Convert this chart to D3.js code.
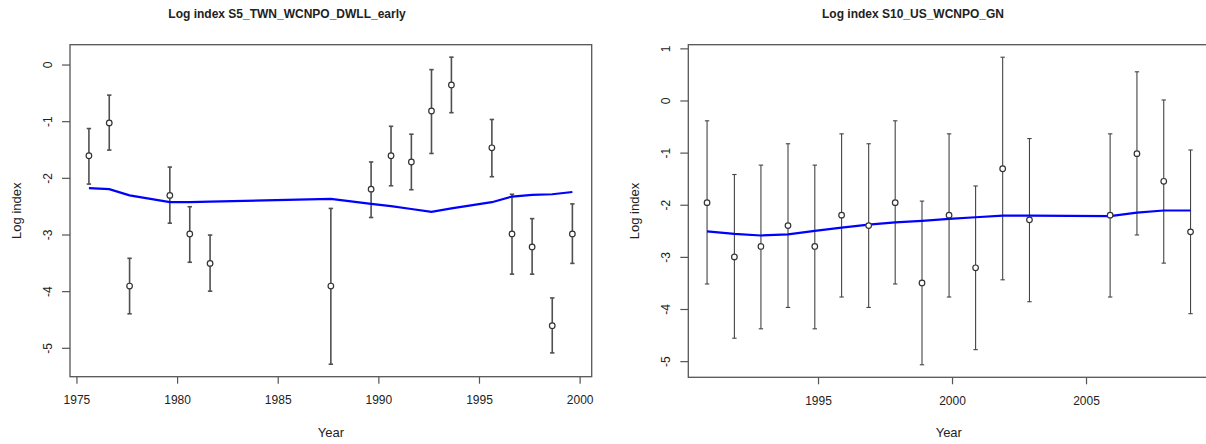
<!DOCTYPE html>
<html>
<head>
<meta charset="utf-8">
<script src="https://cdnjs.cloudflare.com/ajax/libs/d3/7.8.5/d3.min.js"></script>
<style>
  body { margin: 0; background: #fff; }
  text { font-family: "Liberation Sans", Arial, sans-serif; fill: #222; }
</style>
</head>
<body>
<div id="chart"></div>
<script>
// left panel data: S5_TWN_WCNPO_DWLL_early
var leftTitle = "Log index S5_TWN_WCNPO_DWLL_early"
var leftYears = [1975.62, 1976.63, 1977.64, 1979.64, 1980.63, 1981.64, 1987.64, 1989.64, 1990.63, 1991.64, 1992.64, 1993.63, 1995.64, 1996.64, 1997.64, 1998.64, 1999.64]
var leftObs = [-1.61, -1.03, -3.91, -2.31, -2.99, -3.51, -3.91, -2.20, -1.61, -1.72, -0.82, -0.36, -1.47, -2.99, -3.22, -4.61, -2.99]
var leftHi = [-1.13, -0.54, -3.42, -1.81, -2.51, -3.01, -2.54, -1.72, -1.09, -1.23, -0.09, 0.13, -0.97, -2.29, -2.72, -4.12, -2.46]
var leftLo = [-2.11, -1.51, -4.40, -2.80, -3.49, -4.00, -5.29, -2.70, -2.14, -2.21, -1.57, -0.85, -1.98, -3.70, -3.70, -5.09, -3.51]
var leftFit = [-2.18, -2.20, -2.31, -2.43, -2.43, -2.42, -2.37, -2.46, -2.50, -2.55, -2.60, -2.54, -2.43, -2.33, -2.30, -2.29, -2.25]
var leftXTicks = [1975, 1980, 1985, 1990, 1995, 2000]
var leftYTicks = [0, -1, -2, -3, -4, -5]

// right panel data: S10_US_WCNPO_GN
var rightTitle = "Log index S10_US_WCNPO_GN"
var rightYears = [1990.86, 1991.88, 1992.87, 1993.88, 1994.88, 1995.88, 1996.89, 1997.88, 1998.88, 1999.89, 2000.88, 2001.89, 2002.89, 2005.9, 2006.9, 2007.9, 2008.9]
var rightObs = [-1.96, -3.00, -2.80, -2.40, -2.80, -2.20, -2.40, -1.96, -3.50, -2.20, -3.21, -1.31, -2.29, -2.20, -1.02, -1.55, -2.52]
var rightHi = [-0.39, -1.42, -1.24, -0.83, -1.24, -0.64, -0.83, -0.39, -1.93, -0.64, -1.64, 0.83, -0.73, -0.64, 0.55, 0.01, -0.95]
var rightLo = [-3.52, -4.56, -4.38, -3.97, -4.38, -3.77, -3.97, -3.52, -5.07, -3.77, -4.78, -3.44, -3.86, -3.77, -2.58, -3.12, -4.09]
var rightFit = [-2.51, -2.56, -2.59, -2.57, -2.50, -2.44, -2.38, -2.34, -2.31, -2.27, -2.24, -2.21, -2.21, -2.22, -2.15, -2.11, -2.11]
var rightXTicks = [1995, 2000, 2005]
var rightYTicks = [1, 0, -1, -2, -3, -4, -5]

var svg = d3.select("#chart")
  .append("svg")
  .attr("width", 1206)
  .attr("height", 444)

// R prints a plain hyphen, not the unicode minus d3.format gives
function plain(d) { return String(d) }

function drawPanel(opt) {
  var g = svg.append("g")

  var x = d3.scaleLinear().domain(opt.xDomain).range([opt.left, opt.right])
  var y = d3.scaleLinear().domain(opt.yDomain).range([opt.bottom, opt.top])

  // title
  g.append("text")
    .attr("x", opt.titleX)
    .attr("y", 18)
    .attr("text-anchor", "middle")
    .style("font-size", "12px")
    .style("font-weight", "bold")
    .text(opt.title)

  // y axis, labels parallel to axis like R
  var yAxis = g.append("g")
    .attr("transform", "translate(" + opt.left + ",0)")
    .call(d3.axisLeft(y).tickValues(opt.yTicks).tickSize(8).tickSizeOuter(0).tickFormat(plain))
  yAxis.select(".domain").remove()
  yAxis.selectAll("line").attr("stroke", "#555").attr("stroke-width", 1.2)
  yAxis.selectAll("text")
    .attr("x", 0).attr("y", 0).attr("dy", null)
    .attr("text-anchor", "middle")
    .attr("transform", "translate(-18,0) rotate(-90)")
    .style("font-size", "12px")
    .style("fill", "#222")

  // x axis
  var xAxis = g.append("g")
    .attr("transform", "translate(0," + opt.bottom + ")")
    .call(d3.axisBottom(x).tickValues(opt.xTicks).tickSize(7).tickPadding(12).tickSizeOuter(0).tickFormat(plain))
  xAxis.select(".domain").remove()
  xAxis.selectAll("line").attr("stroke", "#555").attr("stroke-width", 1.2)
  xAxis.selectAll("text").style("font-size", "12px").style("fill", "#222")

  // box
  g.append("rect")
    .attr("x", opt.left)
    .attr("y", opt.top)
    .attr("width", opt.right - opt.left)
    .attr("height", opt.bottom - opt.top)
    .attr("fill", "none")
    .attr("stroke", "#555")
    .attr("stroke-width", 1.3)

  // axis titles
  g.append("text")
    .attr("x", (opt.left + opt.right) / 2)
    .attr("y", 437)
    .attr("text-anchor", "middle")
    .style("font-size", "13px")
    .text("Year")
  g.append("text")
    .attr("transform", "translate(" + opt.yLabelX + "," + ((opt.top + opt.bottom) / 2) + ") rotate(-90)")
    .attr("text-anchor", "middle")
    .style("font-size", "13px")
    .text("Log index")

  var pts = opt.years.map(function (d, i) {
    return { year: d, obs: opt.obs[i], hi: opt.hi[i], lo: opt.lo[i], fit: opt.fit[i] }
  })

  // error bars
  var bars = g.selectAll("bars").data(pts).enter().append("g")
    .attr("stroke", opt.barColor)
    .attr("stroke-width", opt.barWidth)
  bars.append("line")
    .attr("x1", function (d) { return x(d.year) })
    .attr("x2", function (d) { return x(d.year) })
    .attr("y1", function (d) { return y(d.hi) })
    .attr("y2", function (d) { return y(d.lo) })
  bars.append("line")
    .attr("x1", function (d) { return x(d.year) - 2.2 })
    .attr("x2", function (d) { return x(d.year) + 2.2 })
    .attr("y1", function (d) { return y(d.hi) })
    .attr("y2", function (d) { return y(d.hi) })
  bars.append("line")
    .attr("x1", function (d) { return x(d.year) - 2.2 })
    .attr("x2", function (d) { return x(d.year) + 2.2 })
    .attr("y1", function (d) { return y(d.lo) })
    .attr("y2", function (d) { return y(d.lo) })

  // fitted line
  var line = d3.line()
    .x(function (d) { return x(d.year) })
    .y(function (d) { return y(d.fit) })
  g.append("path")
    .attr("d", line(pts))
    .attr("fill", "none")
    .attr("stroke", "#0000ff")
    .attr("stroke-width", 2.2)

  // observed points
  g.selectAll("dots").data(pts).enter().append("circle")
    .attr("cx", function (d) { return x(d.year) })
    .attr("cy", function (d) { return y(d.obs) })
    .attr("r", 2.8)
    .attr("fill", "#fff")
    .attr("stroke", "#333")
    .attr("stroke-width", 1.2)
}

drawPanel({
  title: leftTitle, titleX: 287,
  years: leftYears, obs: leftObs, hi: leftHi, lo: leftLo, fit: leftFit,
  xTicks: leftXTicks, yTicks: leftYTicks,
  xDomain: [1974.68, 2000.6], yDomain: [-5.51, 0.35],
  left: 70, right: 591.7, top: 44.7, bottom: 376.7,
  yLabelX: 21, barColor: "#505050", barWidth: 1.6
})

drawPanel({
  title: rightTitle, titleX: 913,
  years: rightYears, obs: rightObs, hi: rightHi, lo: rightLo, fit: rightFit,
  xTicks: rightXTicks, yTicks: rightYTicks,
  xDomain: [1990.16, 2009.6], yDomain: [-5.31, 1.07],
  left: 688.3, right: 1209.3, top: 44.7, bottom: 377.3,
  yLabelX: 639, barColor: "#444", barWidth: 1.1
})
</script>
</body>
</html>
